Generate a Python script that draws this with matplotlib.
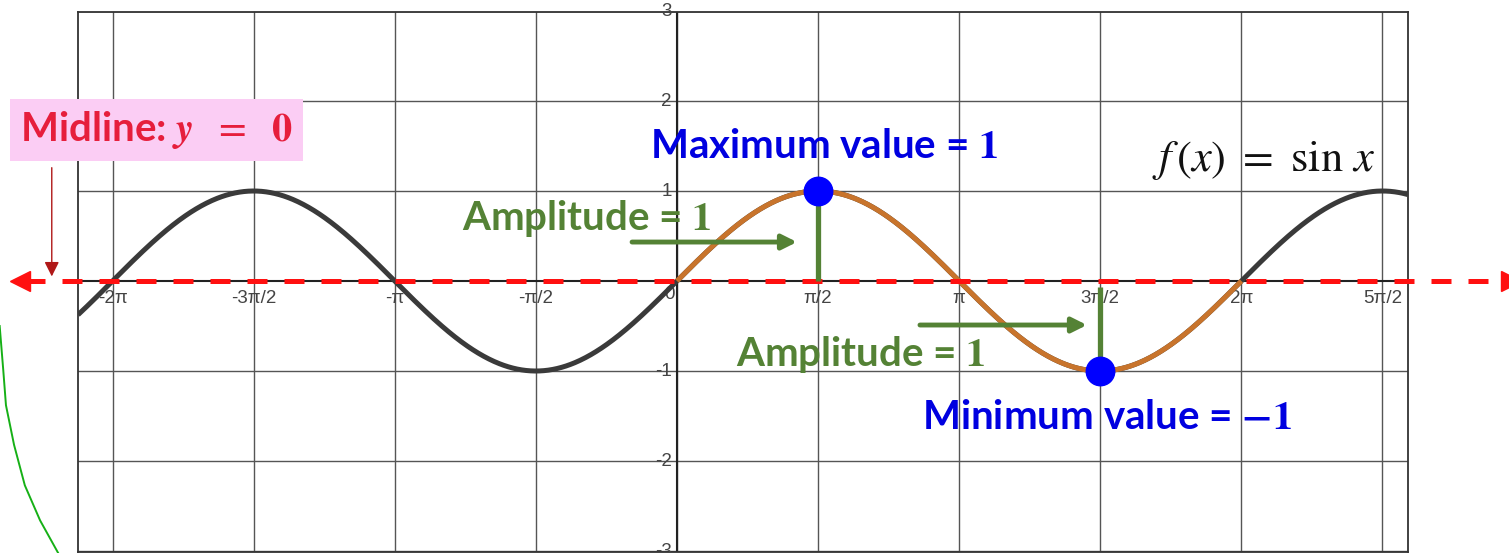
import numpy as np
import matplotlib.pyplot as plt

plt.rcParams['mathtext.fontset'] = 'custom'
plt.rcParams['mathtext.rm'] = 'STIXGeneral'
plt.rcParams['mathtext.it'] = 'STIXGeneral:italic'
plt.rcParams['mathtext.bf'] = 'STIXGeneral:bold'
plt.rcParams['mathtext.sf'] = 'STIXGeneral:italic:bold'   # used as bold italic

# grid / tick labels (GeoGebra style)
x_ticks = [k * np.pi / 2 for k in range(-4, 6)]
x_tick_labels = ['-2π', '-3π/2', '-π', '-π/2', '0', 'π/2', 'π', '3π/2', '2π', '5π/2']
y_ticks = [-3, -2, -1, 1, 2, 3]
y_tick_labels = ['-3', '-2', '-1', '1', '2', '3']

x_min, x_max = -6.668, 8.138
y_min, y_max = -3.011, 2.989

# highlighted period of sin x
period_start, period_end = 0, 2 * np.pi
max_pt = (np.pi / 2, 1)
min_pt = (3 * np.pi / 2, -1)

# amplitude arrows (horizontal pointers) and bars
amp_arrow1_x = [-0.50, 1.336]
amp_arrow1_y = 0.433
amp_arrow2_x = [2.705, 4.564]
amp_arrow2_y = -0.489
amp_bar1_y = [0.0, 0.956]
amp_bar2_y = [-0.067, -0.967]

# midline (dashed) extent, outside the axes as well
midline_x = [-7.26, 9.30]
midline_arrow_x = -6.96
midline_arrow_y = [1.29, 0.02]

# stray green pen stroke at the left edge
stroke_x = [-7.54, -7.50, -7.47, -7.38, -7.26, -7.09, -6.89]
stroke_y = [-0.50, -0.99, -1.38, -1.82, -2.27, -2.66, -3.02]

fig = plt.figure(figsize=(15.09, 5.53), dpi=100)
ax = fig.add_axes([78 / 1509, 1 / 553, 1330 / 1509, 540 / 553])
ax.set_xlim(x_min, x_max)
ax.set_ylim(y_min, y_max)
ax.set_xticks([])
ax.set_yticks([])
for s in ax.spines.values():
    s.set_color('#333333')
    s.set_linewidth(1.3)

for xv in x_ticks:
    ax.axvline(xv, color='#555555', lw=1.0, zorder=1)
for yv in y_ticks:
    ax.axhline(yv, color='#555555', lw=1.0, zorder=1)
ax.axvline(0, color='#222222', lw=1.5, zorder=1)
ax.axhline(0, color='#222222', lw=1.5, zorder=1)

tick_font = dict(family='Liberation Sans', fontsize=13.5, color='#444444')
for xv, lab in zip(x_ticks, x_tick_labels):
    if lab == '0':
        ax.text(xv - 0.03, -0.06, lab, ha='right', va='top', **tick_font)
    else:
        ax.text(xv, -0.1, lab, ha='center', va='top', **tick_font)
for yv, lab in zip(y_ticks, y_tick_labels):
    ax.text(-0.06, yv, lab, ha='right', va='center', **tick_font)

# sin curve: black outside, orange on [0, 2π]
xs = np.linspace(x_min, x_max, 1500)
ax.plot(xs, np.sin(xs), color='#3a3a3a', lw=3.6, zorder=3, solid_capstyle='butt')
xo = np.linspace(period_start, period_end, 800)
ax.plot(xo, np.sin(xo), color='#c8742c', lw=3.6, zorder=4, solid_capstyle='butt')

# midline
ax.plot(midline_x, [0, 0], color='#ff1010', lw=3.6, linestyle=(0, (4.0, 3.4)),
        clip_on=False, zorder=5)
ax.plot([midline_x[0] - 0.05], [0], marker='<', color='#ff1010', ms=14,
        clip_on=False, zorder=5)
ax.plot([midline_x[1] - 0.02], [0], marker='>', color='#ff1010', ms=14,
        clip_on=False, zorder=5)
ax.annotate('', xy=(midline_arrow_x, midline_arrow_y[1]),
            xytext=(midline_arrow_x, midline_arrow_y[0]),
            arrowprops=dict(arrowstyle='-|>', color='#b01818', lw=1.0, mutation_scale=22),
            annotation_clip=False, zorder=6)

# amplitude markers
green = '#548235'
ax.plot([max_pt[0], max_pt[0]], amp_bar1_y, color=green, lw=3.8, zorder=5, solid_capstyle='butt')
ax.plot([min_pt[0], min_pt[0]], amp_bar2_y, color=green, lw=3.8, zorder=5, solid_capstyle='butt')
for axs, ay in [(amp_arrow1_x, amp_arrow1_y), (amp_arrow2_x, amp_arrow2_y)]:
    ax.annotate('', xy=(axs[1], ay), xytext=(axs[0], ay),
                arrowprops=dict(arrowstyle='-|>', color=green, lw=3.5, mutation_scale=22,
                                shrinkA=0, shrinkB=0), zorder=6)

ax.plot(*max_pt, 'o', color='#0000ff', ms=20.5, zorder=7)
ax.plot(*min_pt, 'o', color='#0000ff', ms=20.5, zorder=7)

# stray stroke
ax.plot(stroke_x, stroke_y, color='#16b016', lw=1.4, clip_on=False, zorder=2)

# labels
lab_font = dict(family='Lato', weight='bold')
ax.text(-7.31, 1.68, r'Midline: $\mathsf{y}\ \ =\ \ \mathbf{0}$', color='#e61e3c',
        fontsize=29, va='center', ha='left', clip_on=False, zorder=8,
        bbox=dict(boxstyle='square,pad=0.25', fc='#fbcdf4', ec='none'), **lab_font)
ax.text(-0.30, 1.49, r'Maximum value = $\mathbf{1}$', color='#0000e0', fontsize=29,
        va='center', ha='left', zorder=8, **lab_font)
ax.text(2.727, -1.52, r'Minimum value = $\mathbf{-1}$', color='#0000e0', fontsize=29,
        va='center', ha='left', zorder=8, **lab_font)
ax.text(-2.39, 0.70, r'Amplitude = $\mathbf{1}$', color=green, fontsize=29,
        va='center', ha='left', zorder=8, **lab_font)
ax.text(0.657, -0.82, r'Amplitude = $\mathbf{1}$', color=green, fontsize=29,
        va='center', ha='left', zorder=8, **lab_font)
ax.text(5.29, 1.34, r'$f\,(x)\ =\ \sin\,x$', color='#111111', fontsize=32,
        va='center', ha='left', zorder=8)

fig.savefig('out.png', dpi=100)
